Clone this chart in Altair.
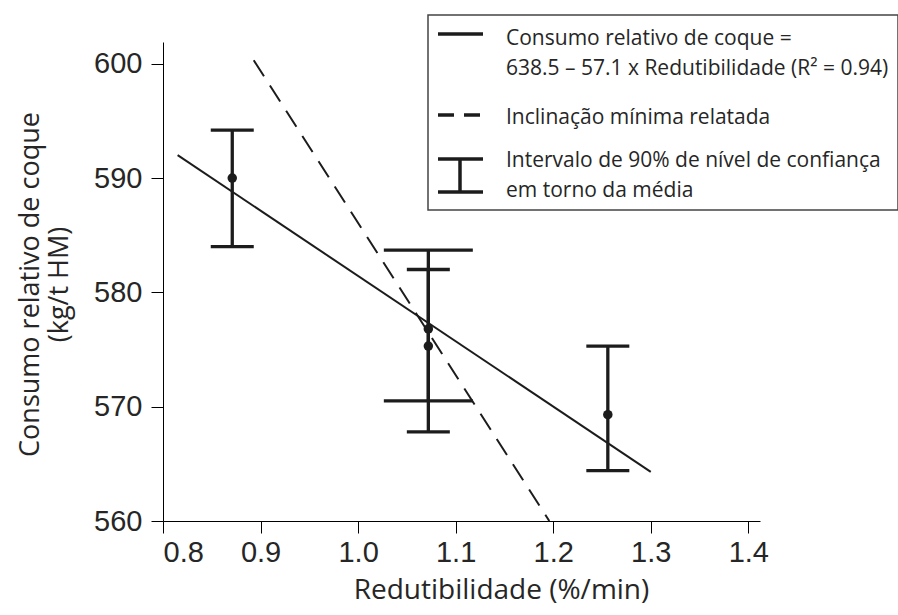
import altair as alt
import pandas as pd

# ---- data ----
redutibilidade = [0.871, 1.072, 1.072, 1.256]
consumo = [590.0, 576.8, 575.3, 569.3]
ic_inferior = [584.0, 567.8, 570.5, 564.4]
ic_superior = [594.2, 582.0, 583.7, 575.3]
ic_tipo = ["estreito", "estreito", "largo", "estreito"]

reg_x = [0.815, 1.300]
reg_y = [592.0, 564.3]

min_x = [0.893, 1.196]
min_y = [600.3, 560.0]

x_ticks = [0.8, 0.9, 1.0, 1.1, 1.2, 1.3, 1.4]
y_ticks = [560, 570, 580, 590, 600]

pts = pd.DataFrame({"x": redutibilidade, "y": consumo, "lo": ic_inferior,
                    "hi": ic_superior, "tipo": ic_tipo})
reg = pd.DataFrame({"x": reg_x, "y": reg_y})
mn = pd.DataFrame({"x": min_x, "y": min_y})
one = pd.DataFrame({"k": [0]})

INK = "#1c1c1c"
TXT = "#262626"

x_scale = alt.Scale(domain=[0.8, 1.412], nice=False, zero=False)
y_scale = alt.Scale(domain=[560, 601.9], nice=False, zero=False)

x_axis = alt.Axis(values=x_ticks, format=".1f", title="Redutibilidade (%/min)",
                  grid=False, domainColor="black", domainWidth=1, tickColor="black",
                  tickSize=12, tickWidth=1, labelFont="Liberation Sans", labelFontSize=29,
                  labelColor=TXT, labelPadding=5, titleFont="Open Sans", titleFontSize=28,
                  titleFontWeight="normal", titleColor=TXT, titleBaseline="middle",
                  titleX=338, titleY=69)
y_axis = alt.Axis(values=y_ticks, format="d", title=["Consumo relativo de coque", "(kg/t HM)"],
                  grid=False, domainColor="black", domainWidth=1, tickColor="black",
                  tickSize=12, tickWidth=1, labelFont="Liberation Sans", labelFontSize=29,
                  labelColor=TXT, labelPadding=9, titleFont="Open Sans", titleFontSize=27,
                  titleFontWeight="normal", titleColor=TXT, titleBaseline="middle",
                  titleAlign="center", titleLineHeight=29, titleX=-133, titleY=242)


def X(f="x"):
    return alt.X(f + ":Q", scale=x_scale, axis=x_axis)


def Y(f="y"):
    return alt.Y(f + ":Q", scale=y_scale, axis=y_axis)


reg_line = alt.Chart(reg).mark_line(color=INK, strokeWidth=2).encode(x=X(), y=Y())
min_line = alt.Chart(mn).mark_line(color=INK, strokeWidth=2, strokeDash=[19, 11]).encode(x=X(), y=Y())

bars = alt.Chart(pts).mark_rule(color=INK, strokeWidth=3.3).encode(
    x=X(), y=Y("lo"), y2="hi:Q")
cap_n_lo = alt.Chart(pts).transform_filter(alt.datum.tipo == "estreito").mark_tick(
    orient="horizontal", size=43, thickness=3.3, color=INK, opacity=1).encode(x=X(), y=Y("lo"))
cap_n_hi = alt.Chart(pts).transform_filter(alt.datum.tipo == "estreito").mark_tick(
    orient="horizontal", size=43, thickness=3.3, color=INK, opacity=1).encode(x=X(), y=Y("hi"))
cap_w_lo = alt.Chart(pts).transform_filter(alt.datum.tipo == "largo").mark_tick(
    orient="horizontal", size=89, thickness=3.3, color=INK, opacity=1).encode(x=X(), y=Y("lo"))
cap_w_hi = alt.Chart(pts).transform_filter(alt.datum.tipo == "largo").mark_tick(
    orient="horizontal", size=89, thickness=3.3, color=INK, opacity=1).encode(x=X(), y=Y("hi"))
dots = alt.Chart(pts).mark_circle(color=INK, size=90, opacity=1).encode(x=X(), y=Y())

# ---- manual legend box (pixel positions relative to plot origin) ----
box = alt.Chart(one).mark_rect(fill="white", stroke="#444444", strokeWidth=1.5).encode(
    x=alt.value(265), x2=alt.value(735), y=alt.value(-27), y2=alt.value(168))
leg_solid = alt.Chart(one).mark_rule(color=INK, strokeWidth=3.5).encode(
    x=alt.value(275), x2=alt.value(320), y=alt.value(-8))
leg_dash = alt.Chart(one).mark_rule(color=INK, strokeWidth=3.5, strokeDash=[16, 10]).encode(
    x=alt.value(275), x2=alt.value(320), y=alt.value(73))
leg_ci_v = alt.Chart(one).mark_rule(color=INK, strokeWidth=3.5).encode(
    x=alt.value(297), y=alt.value(117), y2=alt.value(150))
leg_ci_t = alt.Chart(one).mark_rule(color=INK, strokeWidth=3.5).encode(
    x=alt.value(275), x2=alt.value(320), y=alt.value(117))
leg_ci_b = alt.Chart(one).mark_rule(color=INK, strokeWidth=3.5).encode(
    x=alt.value(275), x2=alt.value(320), y=alt.value(150))

leg_lines = [
    ("Consumo relativo de coque =", -3),
    ("638.5 \u2013 57.1 x Redutibilidade (R\u00b2 = 0.94)", 27),
    ("Inclina\u00e7\u00e3o m\u00ednima relatada", 76),
    ("Intervalo de 90% de n\u00edvel de confian\u00e7a", 119),
    ("em torno da m\u00e9dia", 149),
]
leg_texts = [
    alt.Chart(one).mark_text(align="left", baseline="middle", font="Open Sans",
                             fontSize=21, color=TXT).encode(
        x=alt.value(343), y=alt.value(yy), text=alt.value(t))
    for t, yy in leg_lines
]

chart = alt.layer(reg_line, min_line, bars, cap_n_lo, cap_n_hi, cap_w_lo, cap_w_hi, dots,
                  box, leg_solid, leg_dash, leg_ci_v, leg_ci_t, leg_ci_b, *leg_texts).properties(
    width=597, height=479,
    padding={"left": 163, "top": 42, "right": 138, "bottom": 94},
    autosize=alt.AutoSizeParams(type="none"),
    background="white",
).configure_view(strokeWidth=0)

chart.save("out.html", embed_options={"renderer": "svg", "actions": False})
